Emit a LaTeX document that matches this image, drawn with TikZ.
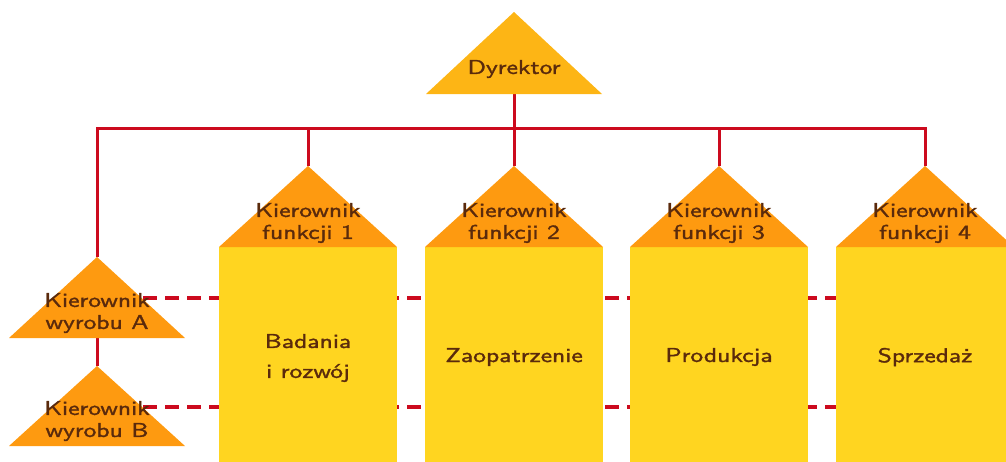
\documentclass[tikz,border=0pt]{standalone}
\usepackage{fontspec}
\newfontfamily\lblfont[FakeStretch=1.28,FakeBold=1.6]{lmsans10-regular.otf}
\definecolor{dyrc}{HTML}{FDB515}
\definecolor{funcc}{HTML}{FE9A10}
\definecolor{boxc}{HTML}{FFD520}
\definecolor{lred}{HTML}{CC0A1E}
\definecolor{txt}{HTML}{5A2A0C}
\begin{document}
\begin{tikzpicture}[x=1pt,y=-1pt,
  lbl/.style={font=\lblfont\fontsize{20}{22}\selectfont, text=txt, align=center, inner sep=0pt},
  conn/.style={draw=lred, line width=3pt},
  dconn/.style={draw=lred, line width=4pt, dash pattern=on 14pt off 8pt}]
\useasboundingbox (0,0) rectangle (1006,461);
\clip (0,0) rectangle (1006,461);
% coordinates
\coordinate (dyra) at (514,12);
\coordinate (dyrb) at (514,94);
\coordinate (bus) at (514,128);
\coordinate (f1a) at (308,166);
\coordinate (f2a) at (514,166);
\coordinate (f3a) at (719,166);
\coordinate (f4a) at (925,166);
\coordinate (pAa) at (97,257);
\coordinate (pAb) at (97,338);
\coordinate (pBa) at (97,366);
\coordinate (pBb) at (97,446);
\coordinate (dAs) at (143,298);
\coordinate (dAe) at (1010,298);
\coordinate (dBs) at (143,407);
\coordinate (dBe) at (1010,407);
% solid connectors
\draw[conn] (dyrb) -- (f2a);
\draw[conn] (pAa) -- (pAa |- bus) -- (f4a |- bus) -- (f4a);
\draw[conn] (f1a |- bus) -- (f1a);
\draw[conn] (f3a |- bus) -- (f3a);
\draw[conn] (pAb) -- (pBa);
% product triangles
\fill[funcc] (pAa) -- ++(88,81) -- ++(-176,0) -- cycle;
\fill[funcc] (pBa) -- ++(88,80) -- ++(-176,0) -- cycle;
% dashed connectors
\draw[dconn] (dAs) -- (dAe);
\draw[dconn] (dBs) -- (dBe);
% function boxes
\foreach \c/\i in {308/1,514/2,719/3,925/4}{
  \fill[boxc] ({\c-89},247) rectangle ({\c+89},470);
  \fill[funcc] (\c,166) -- ({\c+89},247) -- ({\c-89},247) -- cycle;
}
% director
\fill[dyrc] (dyra) -- (602,94) -- (426,94) -- cycle;
% labels
\node[lbl] (dyr) at (514,69) {Dyrektor};
\node[lbl] (k1) at (308,223) {Kierownik\\funkcji 1};
\node[lbl] (k2) at (514,223) {Kierownik\\funkcji 2};
\node[lbl] (k3) at (719,223) {Kierownik\\funkcji 3};
\node[lbl] (k4) at (925,223) {Kierownik\\funkcji 4};
\node[lbl] (wA) at (97,313) {Kierownik\\wyrobu A};
\node[lbl] (wB) at (97,421) {Kierownik\\wyrobu B};
\node[lbl] (b1) at (308,358) {Badania\\[8pt]i rozwój};
\node[lbl] (b2) at (514,357) {Zaopatrzenie};
\node[lbl] (b3) at (719,357) {Produkcja};
\node[lbl] (b4) at (925,357) {Sprzedaż};
\end{tikzpicture}
\end{document}
